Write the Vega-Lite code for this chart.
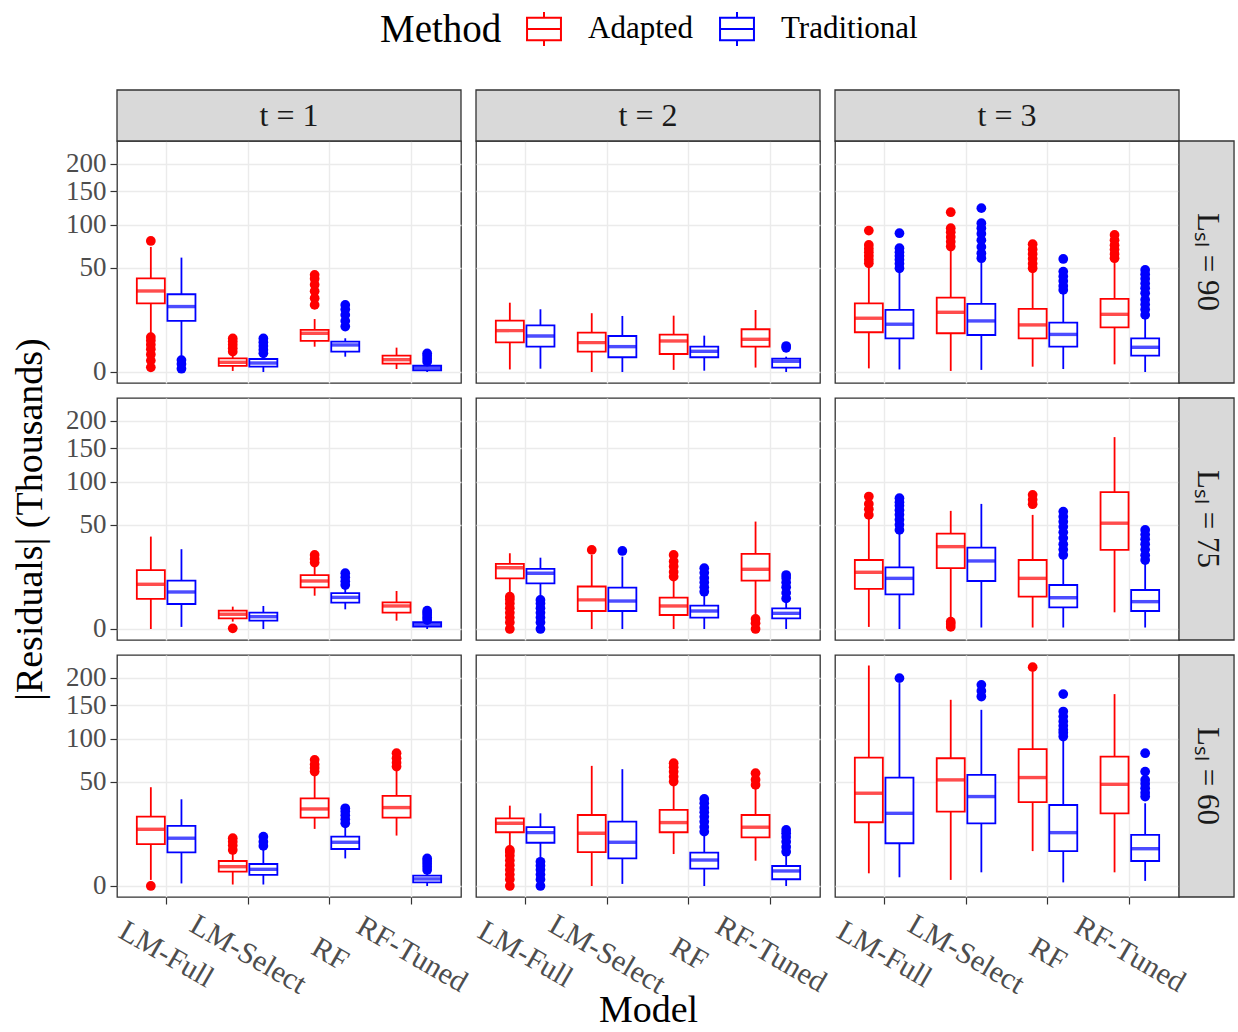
{
  "$schema": "https://vega.github.io/schema/vega-lite/v6.json",
  "background": "white",
  "padding": {"left": 10, "top": 11, "right": 2, "bottom": 2},
  "data": {"values": [
    {"k":"top","t":"t = 1","L":"Lₛₗ = 90"},{"k":"top","t":"t = 2","L":"Lₛₗ = 90"},{"k":"top","t":"t = 3","L":"Lₛₗ = 90"},
    {"k":"right","t":"t = 3","L":"Lₛₗ = 90"},{"k":"right","t":"t = 3","L":"Lₛₗ = 75"},{"k":"right","t":"t = 3","L":"Lₛₗ = 60"},

    {"k":"box","t":"t = 1","L":"Lₛₗ = 90","Model":"LM-Full","Method":"Adapted","lo":6.3,"q1":21.7,"med":30.2,"q3":40.4,"hi":72},
    {"k":"box","t":"t = 1","L":"Lₛₗ = 90","Model":"LM-Full","Method":"Traditional","lo":1.1,"q1":12,"med":19.7,"q3":27.8,"hi":60.2},
    {"k":"box","t":"t = 1","L":"Lₛₗ = 90","Model":"LM-Select","Method":"Adapted","lo":0.005,"q1":0.17,"med":0.43,"q3":0.86,"hi":1.4},
    {"k":"box","t":"t = 1","L":"Lₛₗ = 90","Model":"LM-Select","Method":"Traditional","lo":0,"q1":0.13,"med":0.37,"q3":0.78,"hi":1.23},
    {"k":"box","t":"t = 1","L":"Lₛₗ = 90","Model":"RF","Method":"Adapted","lo":2.95,"q1":4.43,"med":6.89,"q3":8.13,"hi":12.9},
    {"k":"box","t":"t = 1","L":"Lₛₗ = 90","Model":"RF","Method":"Traditional","lo":1.08,"q1":1.9,"med":3.36,"q3":4.24,"hi":5.23},
    {"k":"box","t":"t = 1","L":"Lₛₗ = 90","Model":"RF-Tuned","Method":"Adapted","lo":0.04,"q1":0.32,"med":0.7,"q3":1.23,"hi":2.73},
    {"k":"box","t":"t = 1","L":"Lₛₗ = 90","Model":"RF-Tuned","Method":"Traditional","lo":0,"q1":0.013,"med":0.07,"q3":0.18,"hi":0.35},

    {"k":"box","t":"t = 2","L":"Lₛₗ = 90","Model":"LM-Full","Method":"Adapted","lo":0.03,"q1":4.06,"med":7.87,"q3":12.1,"hi":22.1},
    {"k":"box","t":"t = 2","L":"Lₛₗ = 90","Model":"LM-Full","Method":"Traditional","lo":0.05,"q1":2.96,"med":5.97,"q3":10,"hi":18.1},
    {"k":"box","t":"t = 2","L":"Lₛₗ = 90","Model":"LM-Select","Method":"Adapted","lo":0,"q1":1.9,"med":3.96,"q3":7.13,"hi":15.9},
    {"k":"box","t":"t = 2","L":"Lₛₗ = 90","Model":"LM-Select","Method":"Traditional","lo":0,"q1":1,"med":2.96,"q3":5.97,"hi":14.45},
    {"k":"box","t":"t = 2","L":"Lₛₗ = 90","Model":"RF","Method":"Adapted","lo":0.02,"q1":1.49,"med":4.43,"q3":6.42,"hi":14.6},
    {"k":"box","t":"t = 2","L":"Lₛₗ = 90","Model":"RF","Method":"Traditional","lo":0.008,"q1":1,"med":1.97,"q3":2.96,"hi":6.08},
    {"k":"box","t":"t = 2","L":"Lₛₗ = 90","Model":"RF-Tuned","Method":"Adapted","lo":0.09,"q1":2.96,"med":4.92,"q3":8.4,"hi":17.7},
    {"k":"box","t":"t = 2","L":"Lₛₗ = 90","Model":"RF-Tuned","Method":"Traditional","lo":0,"q1":0.09,"med":0.53,"q3":0.82,"hi":1.08},

    {"k":"box","t":"t = 3","L":"Lₛₗ = 90","Model":"LM-Full","Method":"Adapted","lo":0.06,"q1":7.26,"med":13.3,"q3":21.7,"hi":52.8},
    {"k":"box","t":"t = 3","L":"Lₛₗ = 90","Model":"LM-Full","Method":"Traditional","lo":0.03,"q1":5.23,"med":10.5,"q3":17.7,"hi":47.9},
    {"k":"box","t":"t = 3","L":"Lₛₗ = 90","Model":"LM-Select","Method":"Adapted","lo":0.005,"q1":6.9,"med":16.4,"q3":25.5,"hi":70.5},
    {"k":"box","t":"t = 3","L":"Lₛₗ = 90","Model":"LM-Select","Method":"Traditional","lo":0.02,"q1":6.3,"med":12,"q3":21.3,"hi":57.8},
    {"k":"box","t":"t = 3","L":"Lₛₗ = 90","Model":"RF","Method":"Adapted","lo":0.13,"q1":5.23,"med":10.2,"q3":18.3,"hi":47.9},
    {"k":"box","t":"t = 3","L":"Lₛₗ = 90","Model":"RF","Method":"Traditional","lo":0.04,"q1":2.95,"med":6.5,"q3":11.2,"hi":29.7},
    {"k":"box","t":"t = 3","L":"Lₛₗ = 90","Model":"RF-Tuned","Method":"Adapted","lo":0.27,"q1":9.2,"med":15.3,"q3":24.6,"hi":57.8},
    {"k":"box","t":"t = 3","L":"Lₛₗ = 90","Model":"RF-Tuned","Method":"Traditional","lo":0,"q1":1.23,"med":2.81,"q3":5.23,"hi":14.1},

    {"k":"box","t":"t = 1","L":"Lₛₗ = 75","Model":"LM-Full","Method":"Adapted","lo":0,"q1":4.15,"med":9.2,"q3":16,"hi":39.3},
    {"k":"box","t":"t = 1","L":"Lₛₗ = 75","Model":"LM-Full","Method":"Traditional","lo":0.02,"q1":2.88,"med":6.3,"q3":10.8,"hi":29.3},
    {"k":"box","t":"t = 1","L":"Lₛₗ = 75","Model":"LM-Select","Method":"Adapted","lo":0.25,"q1":0.52,"med":1,"q3":1.55,"hi":2.3},
    {"k":"box","t":"t = 1","L":"Lₛₗ = 75","Model":"LM-Select","Method":"Traditional","lo":0,"q1":0.32,"med":0.7,"q3":1.23,"hi":2.44},
    {"k":"box","t":"t = 1","L":"Lₛₗ = 75","Model":"RF","Method":"Adapted","lo":5.1,"q1":8,"med":10.6,"q3":13.4,"hi":18.9},
    {"k":"box","t":"t = 1","L":"Lₛₗ = 75","Model":"RF","Method":"Traditional","lo":1.78,"q1":3.2,"med":4.6,"q3":5.9,"hi":8.25},
    {"k":"box","t":"t = 1","L":"Lₛₗ = 75","Model":"RF-Tuned","Method":"Adapted","lo":0.32,"q1":1.23,"med":2.44,"q3":3.28,"hi":6.65},
    {"k":"box","t":"t = 1","L":"Lₛₗ = 75","Model":"RF-Tuned","Method":"Traditional","lo":0,"q1":0.025,"med":0.1,"q3":0.21,"hi":0.29},

    {"k":"box","t":"t = 2","L":"Lₛₗ = 75","Model":"LM-Full","Method":"Adapted","lo":5.33,"q1":11.8,"med":17.3,"q3":19.5,"hi":26.4},
    {"k":"box","t":"t = 2","L":"Lₛₗ = 75","Model":"LM-Full","Method":"Traditional","lo":4.15,"q1":9.6,"med":14.3,"q3":16.6,"hi":23.4},
    {"k":"box","t":"t = 2","L":"Lₛₗ = 75","Model":"LM-Select","Method":"Adapted","lo":0,"q1":1.49,"med":3.9,"q3":8.3,"hi":25.2},
    {"k":"box","t":"t = 2","L":"Lₛₗ = 75","Model":"LM-Select","Method":"Traditional","lo":0,"q1":1.49,"med":3.6,"q3":7.87,"hi":24.1},
    {"k":"box","t":"t = 2","L":"Lₛₗ = 75","Model":"RF","Method":"Adapted","lo":0,"q1":0.9,"med":2.44,"q3":4.5,"hi":11.8},
    {"k":"box","t":"t = 2","L":"Lₛₗ = 75","Model":"RF","Method":"Traditional","lo":0,"q1":0.59,"med":1.49,"q3":2.5,"hi":5.9},
    {"k":"box","t":"t = 2","L":"Lₛₗ = 75","Model":"RF-Tuned","Method":"Adapted","lo":0.9,"q1":10.8,"med":16.4,"q3":25.9,"hi":53.1},
    {"k":"box","t":"t = 2","L":"Lₛₗ = 75","Model":"RF-Tuned","Method":"Traditional","lo":0,"q1":0.52,"med":1.13,"q3":1.97,"hi":3.9},

    {"k":"box","t":"t = 3","L":"Lₛₗ = 75","Model":"LM-Full","Method":"Adapted","lo":0.02,"q1":7.4,"med":14.8,"q3":21.9,"hi":58.1},
    {"k":"box","t":"t = 3","L":"Lₛₗ = 75","Model":"LM-Full","Method":"Traditional","lo":0,"q1":5.5,"med":11.8,"q3":17.5,"hi":43.6},
    {"k":"box","t":"t = 3","L":"Lₛₗ = 75","Model":"LM-Select","Method":"Adapted","lo":0.52,"q1":17,"med":31.2,"q3":41.9,"hi":64.2},
    {"k":"box","t":"t = 3","L":"Lₛₗ = 75","Model":"LM-Select","Method":"Traditional","lo":0.01,"q1":10.6,"med":21.3,"q3":30.5,"hi":72},
    {"k":"box","t":"t = 3","L":"Lₛₗ = 75","Model":"RF","Method":"Adapted","lo":0.01,"q1":4.8,"med":11.8,"q3":21.9,"hi":59.9},
    {"k":"box","t":"t = 3","L":"Lₛₗ = 75","Model":"RF","Method":"Traditional","lo":0.01,"q1":2.17,"med":4.5,"q3":8.9,"hi":24.1},
    {"k":"box","t":"t = 3","L":"Lₛₗ = 75","Model":"RF-Tuned","Method":"Adapted","lo":1.28,"q1":28.8,"med":51.5,"q3":86.1,"hi":169.4},
    {"k":"box","t":"t = 3","L":"Lₛₗ = 75","Model":"RF-Tuned","Method":"Traditional","lo":0.01,"q1":1.49,"med":3.44,"q3":7,"hi":20.9},

    {"k":"box","t":"t = 1","L":"Lₛₗ = 60","Model":"LM-Full","Method":"Adapted","lo":0.17,"q1":8.1,"med":14.8,"q3":22.1,"hi":44.9},
    {"k":"box","t":"t = 1","L":"Lₛₗ = 60","Model":"LM-Full","Method":"Traditional","lo":0.03,"q1":5.2,"med":10.5,"q3":16.6,"hi":34.6},
    {"k":"box","t":"t = 1","L":"Lₛₗ = 60","Model":"LM-Select","Method":"Adapted","lo":0.01,"q1":0.95,"med":1.72,"q3":2.88,"hi":4.9},
    {"k":"box","t":"t = 1","L":"Lₛₗ = 60","Model":"LM-Select","Method":"Traditional","lo":0.01,"q1":0.56,"med":1.28,"q3":2.23,"hi":5.97},
    {"k":"box","t":"t = 1","L":"Lₛₗ = 60","Model":"RF","Method":"Adapted","lo":15,"q1":21.5,"med":27.3,"q3":35.4,"hi":58.5},
    {"k":"box","t":"t = 1","L":"Lₛₗ = 60","Model":"RF","Method":"Traditional","lo":3.5,"q1":6.3,"med":8.8,"q3":11.2,"hi":17.2},
    {"k":"box","t":"t = 1","L":"Lₛₗ = 60","Model":"RF-Tuned","Method":"Adapted","lo":11.7,"q1":21.5,"med":28.3,"q3":37.3,"hi":63.8},
    {"k":"box","t":"t = 1","L":"Lₛₗ = 60","Model":"RF-Tuned","Method":"Traditional","lo":0,"q1":0.06,"med":0.23,"q3":0.49,"hi":0.74},

    {"k":"box","t":"t = 2","L":"Lₛₗ = 60","Model":"LM-Full","Method":"Adapted","lo":6.5,"q1":13.3,"med":18.1,"q3":21.1,"hi":29.7},
    {"k":"box","t":"t = 2","L":"Lₛₗ = 60","Model":"LM-Full","Method":"Traditional","lo":2.95,"q1":8.6,"med":13.1,"q3":15.9,"hi":24.3},
    {"k":"box","t":"t = 2","L":"Lₛₗ = 60","Model":"LM-Select","Method":"Adapted","lo":0,"q1":5.3,"med":12.8,"q3":23.2,"hi":66.4},
    {"k":"box","t":"t = 2","L":"Lₛₗ = 60","Model":"LM-Select","Method":"Traditional","lo":0.02,"q1":3.5,"med":8.8,"q3":19.1,"hi":62.8},
    {"k":"box","t":"t = 2","L":"Lₛₗ = 60","Model":"RF","Method":"Adapted","lo":4.7,"q1":13.3,"med":18.5,"q3":26.6,"hi":48.6},
    {"k":"box","t":"t = 2","L":"Lₛₗ = 60","Model":"RF","Method":"Traditional","lo":0,"q1":1.38,"med":3.1,"q3":5.1,"hi":12.8},
    {"k":"box","t":"t = 2","L":"Lₛₗ = 60","Model":"RF-Tuned","Method":"Adapted","lo":2.95,"q1":10.9,"med":15.9,"q3":23.2,"hi":45.5},
    {"k":"box","t":"t = 2","L":"Lₛₗ = 60","Model":"RF-Tuned","Method":"Traditional","lo":0,"q1":0.21,"med":1.04,"q3":1.84,"hi":4.9},

    {"k":"box","t":"t = 3","L":"Lₛₗ = 60","Model":"LM-Full","Method":"Adapted","lo":0.74,"q1":18.7,"med":39.6,"q3":75.9,"hi":223.7},
    {"k":"box","t":"t = 3","L":"Lₛₗ = 60","Model":"LM-Full","Method":"Traditional","lo":0.35,"q1":8.4,"med":24.3,"q3":54.1,"hi":189.4},
    {"k":"box","t":"t = 3","L":"Lₛₗ = 60","Model":"LM-Select","Method":"Adapted","lo":0.17,"q1":25.5,"med":51.8,"q3":75.1,"hi":159.5},
    {"k":"box","t":"t = 3","L":"Lₛₗ = 60","Model":"LM-Select","Method":"Traditional","lo":0.86,"q1":18.1,"med":36.8,"q3":56.8,"hi":142.8},
    {"k":"box","t":"t = 3","L":"Lₛₗ = 60","Model":"RF","Method":"Adapted","lo":5.6,"q1":32.3,"med":54.1,"q3":86.1,"hi":211.7},
    {"k":"box","t":"t = 3","L":"Lₛₗ = 60","Model":"RF","Method":"Traditional","lo":0.06,"q1":5.6,"med":13.1,"q3":30.2,"hi":98.2},
    {"k":"box","t":"t = 3","L":"Lₛₗ = 60","Model":"RF-Tuned","Method":"Adapted","lo":0.86,"q1":24.3,"med":47.6,"q3":77.1,"hi":169.4},
    {"k":"box","t":"t = 3","L":"Lₛₗ = 60","Model":"RF-Tuned","Method":"Traditional","lo":0.12,"q1":2.88,"med":6.4,"q3":12,"hi":31.5},

    {"k":"out","t":"t = 1","L":"Lₛₗ = 90","Model":"LM-Full","Method":"Adapted","v":79},
    {"k":"out","t":"t = 1","L":"Lₛₗ = 90","Model":"LM-Full","Method":"Adapted","v":0.1},
    {"k":"out","t":"t = 1","L":"Lₛₗ = 90","Model":"LM-Full","Method":"Adapted","v":0.6},
    {"k":"out","t":"t = 1","L":"Lₛₗ = 90","Model":"LM-Full","Method":"Adapted","v":1.4},
    {"k":"out","t":"t = 1","L":"Lₛₗ = 90","Model":"LM-Full","Method":"Adapted","v":2.4},
    {"k":"out","t":"t = 1","L":"Lₛₗ = 90","Model":"LM-Full","Method":"Adapted","v":3.4},
    {"k":"out","t":"t = 1","L":"Lₛₗ = 90","Model":"LM-Full","Method":"Adapted","v":4.6},
    {"k":"out","t":"t = 1","L":"Lₛₗ = 90","Model":"LM-Full","Method":"Adapted","v":5.6},
    {"k":"out","t":"t = 1","L":"Lₛₗ = 90","Model":"LM-Full","Method":"Traditional","v":0.05},
    {"k":"out","t":"t = 1","L":"Lₛₗ = 90","Model":"LM-Full","Method":"Traditional","v":0.3},
    {"k":"out","t":"t = 1","L":"Lₛₗ = 90","Model":"LM-Full","Method":"Traditional","v":0.65},
    {"k":"out","t":"t = 1","L":"Lₛₗ = 90","Model":"LM-Select","Method":"Adapted","v":1.9},
    {"k":"out","t":"t = 1","L":"Lₛₗ = 90","Model":"LM-Select","Method":"Adapted","v":2.6},
    {"k":"out","t":"t = 1","L":"Lₛₗ = 90","Model":"LM-Select","Method":"Adapted","v":3.4},
    {"k":"out","t":"t = 1","L":"Lₛₗ = 90","Model":"LM-Select","Method":"Adapted","v":4.3},
    {"k":"out","t":"t = 1","L":"Lₛₗ = 90","Model":"LM-Select","Method":"Adapted","v":5.2},
    {"k":"out","t":"t = 1","L":"Lₛₗ = 90","Model":"LM-Select","Method":"Traditional","v":1.6},
    {"k":"out","t":"t = 1","L":"Lₛₗ = 90","Model":"LM-Select","Method":"Traditional","v":2.3},
    {"k":"out","t":"t = 1","L":"Lₛₗ = 90","Model":"LM-Select","Method":"Traditional","v":3.1},
    {"k":"out","t":"t = 1","L":"Lₛₗ = 90","Model":"LM-Select","Method":"Traditional","v":4.1},
    {"k":"out","t":"t = 1","L":"Lₛₗ = 90","Model":"LM-Select","Method":"Traditional","v":5.2},
    {"k":"out","t":"t = 1","L":"Lₛₗ = 90","Model":"RF","Method":"Adapted","v":20.7},
    {"k":"out","t":"t = 1","L":"Lₛₗ = 90","Model":"RF","Method":"Adapted","v":25},
    {"k":"out","t":"t = 1","L":"Lₛₗ = 90","Model":"RF","Method":"Adapted","v":30},
    {"k":"out","t":"t = 1","L":"Lₛₗ = 90","Model":"RF","Method":"Adapted","v":35},
    {"k":"out","t":"t = 1","L":"Lₛₗ = 90","Model":"RF","Method":"Adapted","v":40},
    {"k":"out","t":"t = 1","L":"Lₛₗ = 90","Model":"RF","Method":"Adapted","v":43.4},
    {"k":"out","t":"t = 1","L":"Lₛₗ = 90","Model":"RF","Method":"Traditional","v":9.5},
    {"k":"out","t":"t = 1","L":"Lₛₗ = 90","Model":"RF","Method":"Traditional","v":12},
    {"k":"out","t":"t = 1","L":"Lₛₗ = 90","Model":"RF","Method":"Traditional","v":15},
    {"k":"out","t":"t = 1","L":"Lₛₗ = 90","Model":"RF","Method":"Traditional","v":18},
    {"k":"out","t":"t = 1","L":"Lₛₗ = 90","Model":"RF","Method":"Traditional","v":20.7},
    {"k":"out","t":"t = 1","L":"Lₛₗ = 90","Model":"RF-Tuned","Method":"Traditional","v":0.49},
    {"k":"out","t":"t = 1","L":"Lₛₗ = 90","Model":"RF-Tuned","Method":"Traditional","v":0.8},
    {"k":"out","t":"t = 1","L":"Lₛₗ = 90","Model":"RF-Tuned","Method":"Traditional","v":1.2},
    {"k":"out","t":"t = 1","L":"Lₛₗ = 90","Model":"RF-Tuned","Method":"Traditional","v":1.6},

    {"k":"out","t":"t = 2","L":"Lₛₗ = 90","Model":"RF-Tuned","Method":"Traditional","v":2.7},
    {"k":"out","t":"t = 2","L":"Lₛₗ = 90","Model":"RF-Tuned","Method":"Traditional","v":3.1},

    {"k":"out","t":"t = 3","L":"Lₛₗ = 90","Model":"LM-Full","Method":"Adapted","v":54.4},
    {"k":"out","t":"t = 3","L":"Lₛₗ = 90","Model":"LM-Full","Method":"Adapted","v":58},
    {"k":"out","t":"t = 3","L":"Lₛₗ = 90","Model":"LM-Full","Method":"Adapted","v":62},
    {"k":"out","t":"t = 3","L":"Lₛₗ = 90","Model":"LM-Full","Method":"Adapted","v":66},
    {"k":"out","t":"t = 3","L":"Lₛₗ = 90","Model":"LM-Full","Method":"Adapted","v":70},
    {"k":"out","t":"t = 3","L":"Lₛₗ = 90","Model":"LM-Full","Method":"Adapted","v":74.3},
    {"k":"out","t":"t = 3","L":"Lₛₗ = 90","Model":"LM-Full","Method":"Adapted","v":92},
    {"k":"out","t":"t = 3","L":"Lₛₗ = 90","Model":"LM-Full","Method":"Traditional","v":49.5},
    {"k":"out","t":"t = 3","L":"Lₛₗ = 90","Model":"LM-Full","Method":"Traditional","v":54},
    {"k":"out","t":"t = 3","L":"Lₛₗ = 90","Model":"LM-Full","Method":"Traditional","v":58},
    {"k":"out","t":"t = 3","L":"Lₛₗ = 90","Model":"LM-Full","Method":"Traditional","v":62},
    {"k":"out","t":"t = 3","L":"Lₛₗ = 90","Model":"LM-Full","Method":"Traditional","v":66},
    {"k":"out","t":"t = 3","L":"Lₛₗ = 90","Model":"LM-Full","Method":"Traditional","v":70.5},
    {"k":"out","t":"t = 3","L":"Lₛₗ = 90","Model":"LM-Full","Method":"Traditional","v":88.6},
    {"k":"out","t":"t = 3","L":"Lₛₗ = 90","Model":"LM-Select","Method":"Adapted","v":72.4},
    {"k":"out","t":"t = 3","L":"Lₛₗ = 90","Model":"LM-Select","Method":"Adapted","v":78},
    {"k":"out","t":"t = 3","L":"Lₛₗ = 90","Model":"LM-Select","Method":"Adapted","v":84},
    {"k":"out","t":"t = 3","L":"Lₛₗ = 90","Model":"LM-Select","Method":"Adapted","v":90},
    {"k":"out","t":"t = 3","L":"Lₛₗ = 90","Model":"LM-Select","Method":"Adapted","v":95.2},
    {"k":"out","t":"t = 3","L":"Lₛₗ = 90","Model":"LM-Select","Method":"Adapted","v":117.5},
    {"k":"out","t":"t = 3","L":"Lₛₗ = 90","Model":"LM-Select","Method":"Traditional","v":59.6},
    {"k":"out","t":"t = 3","L":"Lₛₗ = 90","Model":"LM-Select","Method":"Traditional","v":65},
    {"k":"out","t":"t = 3","L":"Lₛₗ = 90","Model":"LM-Select","Method":"Traditional","v":72},
    {"k":"out","t":"t = 3","L":"Lₛₗ = 90","Model":"LM-Select","Method":"Traditional","v":80},
    {"k":"out","t":"t = 3","L":"Lₛₗ = 90","Model":"LM-Select","Method":"Traditional","v":88},
    {"k":"out","t":"t = 3","L":"Lₛₗ = 90","Model":"LM-Select","Method":"Traditional","v":95},
    {"k":"out","t":"t = 3","L":"Lₛₗ = 90","Model":"LM-Select","Method":"Traditional","v":101.9},
    {"k":"out","t":"t = 3","L":"Lₛₗ = 90","Model":"LM-Select","Method":"Traditional","v":123.5},
    {"k":"out","t":"t = 3","L":"Lₛₗ = 90","Model":"RF","Method":"Adapted","v":49.5},
    {"k":"out","t":"t = 3","L":"Lₛₗ = 90","Model":"RF","Method":"Adapted","v":54},
    {"k":"out","t":"t = 3","L":"Lₛₗ = 90","Model":"RF","Method":"Adapted","v":59},
    {"k":"out","t":"t = 3","L":"Lₛₗ = 90","Model":"RF","Method":"Adapted","v":64},
    {"k":"out","t":"t = 3","L":"Lₛₗ = 90","Model":"RF","Method":"Adapted","v":69},
    {"k":"out","t":"t = 3","L":"Lₛₗ = 90","Model":"RF","Method":"Adapted","v":75.1},
    {"k":"out","t":"t = 3","L":"Lₛₗ = 90","Model":"RF","Method":"Traditional","v":31},
    {"k":"out","t":"t = 3","L":"Lₛₗ = 90","Model":"RF","Method":"Traditional","v":34},
    {"k":"out","t":"t = 3","L":"Lₛₗ = 90","Model":"RF","Method":"Traditional","v":38},
    {"k":"out","t":"t = 3","L":"Lₛₗ = 90","Model":"RF","Method":"Traditional","v":42},
    {"k":"out","t":"t = 3","L":"Lₛₗ = 90","Model":"RF","Method":"Traditional","v":46.4},
    {"k":"out","t":"t = 3","L":"Lₛₗ = 90","Model":"RF","Method":"Traditional","v":58.8},
    {"k":"out","t":"t = 3","L":"Lₛₗ = 90","Model":"RF-Tuned","Method":"Adapted","v":59.6},
    {"k":"out","t":"t = 3","L":"Lₛₗ = 90","Model":"RF-Tuned","Method":"Adapted","v":64},
    {"k":"out","t":"t = 3","L":"Lₛₗ = 90","Model":"RF-Tuned","Method":"Adapted","v":69},
    {"k":"out","t":"t = 3","L":"Lₛₗ = 90","Model":"RF-Tuned","Method":"Adapted","v":74},
    {"k":"out","t":"t = 3","L":"Lₛₗ = 90","Model":"RF-Tuned","Method":"Adapted","v":80},
    {"k":"out","t":"t = 3","L":"Lₛₗ = 90","Model":"RF-Tuned","Method":"Adapted","v":86.5},
    {"k":"out","t":"t = 3","L":"Lₛₗ = 90","Model":"RF-Tuned","Method":"Traditional","v":15},
    {"k":"out","t":"t = 3","L":"Lₛₗ = 90","Model":"RF-Tuned","Method":"Traditional","v":18},
    {"k":"out","t":"t = 3","L":"Lₛₗ = 90","Model":"RF-Tuned","Method":"Traditional","v":21},
    {"k":"out","t":"t = 3","L":"Lₛₗ = 90","Model":"RF-Tuned","Method":"Traditional","v":24},
    {"k":"out","t":"t = 3","L":"Lₛₗ = 90","Model":"RF-Tuned","Method":"Traditional","v":28.5},
    {"k":"out","t":"t = 3","L":"Lₛₗ = 90","Model":"RF-Tuned","Method":"Traditional","v":32.3},
    {"k":"out","t":"t = 3","L":"Lₛₗ = 90","Model":"RF-Tuned","Method":"Traditional","v":36},
    {"k":"out","t":"t = 3","L":"Lₛₗ = 90","Model":"RF-Tuned","Method":"Traditional","v":40},
    {"k":"out","t":"t = 3","L":"Lₛₗ = 90","Model":"RF-Tuned","Method":"Traditional","v":44},
    {"k":"out","t":"t = 3","L":"Lₛₗ = 90","Model":"RF-Tuned","Method":"Traditional","v":47.9},

    {"k":"out","t":"t = 1","L":"Lₛₗ = 75","Model":"LM-Select","Method":"Adapted","v":0.002},
    {"k":"out","t":"t = 1","L":"Lₛₗ = 75","Model":"RF","Method":"Adapted","v":20.3},
    {"k":"out","t":"t = 1","L":"Lₛₗ = 75","Model":"RF","Method":"Adapted","v":22.5},
    {"k":"out","t":"t = 1","L":"Lₛₗ = 75","Model":"RF","Method":"Adapted","v":25.2},
    {"k":"out","t":"t = 1","L":"Lₛₗ = 75","Model":"RF","Method":"Traditional","v":8.9},
    {"k":"out","t":"t = 1","L":"Lₛₗ = 75","Model":"RF","Method":"Traditional","v":10.5},
    {"k":"out","t":"t = 1","L":"Lₛₗ = 75","Model":"RF","Method":"Traditional","v":12.3},
    {"k":"out","t":"t = 1","L":"Lₛₗ = 75","Model":"RF","Method":"Traditional","v":14.3},
    {"k":"out","t":"t = 1","L":"Lₛₗ = 75","Model":"RF-Tuned","Method":"Traditional","v":0.37},
    {"k":"out","t":"t = 1","L":"Lₛₗ = 75","Model":"RF-Tuned","Method":"Traditional","v":0.6},
    {"k":"out","t":"t = 1","L":"Lₛₗ = 75","Model":"RF-Tuned","Method":"Traditional","v":0.9},
    {"k":"out","t":"t = 1","L":"Lₛₗ = 75","Model":"RF-Tuned","Method":"Traditional","v":1.2},
    {"k":"out","t":"t = 1","L":"Lₛₗ = 75","Model":"RF-Tuned","Method":"Traditional","v":1.55},

    {"k":"out","t":"t = 2","L":"Lₛₗ = 75","Model":"LM-Full","Method":"Adapted","v":0},
    {"k":"out","t":"t = 2","L":"Lₛₗ = 75","Model":"LM-Full","Method":"Adapted","v":0.2},
    {"k":"out","t":"t = 2","L":"Lₛₗ = 75","Model":"LM-Full","Method":"Adapted","v":0.6},
    {"k":"out","t":"t = 2","L":"Lₛₗ = 75","Model":"LM-Full","Method":"Adapted","v":1.2},
    {"k":"out","t":"t = 2","L":"Lₛₗ = 75","Model":"LM-Full","Method":"Adapted","v":2},
    {"k":"out","t":"t = 2","L":"Lₛₗ = 75","Model":"LM-Full","Method":"Adapted","v":3},
    {"k":"out","t":"t = 2","L":"Lₛₗ = 75","Model":"LM-Full","Method":"Adapted","v":4},
    {"k":"out","t":"t = 2","L":"Lₛₗ = 75","Model":"LM-Full","Method":"Adapted","v":4.8},
    {"k":"out","t":"t = 2","L":"Lₛₗ = 75","Model":"LM-Full","Method":"Traditional","v":0},
    {"k":"out","t":"t = 2","L":"Lₛₗ = 75","Model":"LM-Full","Method":"Traditional","v":0.2},
    {"k":"out","t":"t = 2","L":"Lₛₗ = 75","Model":"LM-Full","Method":"Traditional","v":0.6},
    {"k":"out","t":"t = 2","L":"Lₛₗ = 75","Model":"LM-Full","Method":"Traditional","v":1.2},
    {"k":"out","t":"t = 2","L":"Lₛₗ = 75","Model":"LM-Full","Method":"Traditional","v":2},
    {"k":"out","t":"t = 2","L":"Lₛₗ = 75","Model":"LM-Full","Method":"Traditional","v":3},
    {"k":"out","t":"t = 2","L":"Lₛₗ = 75","Model":"LM-Full","Method":"Traditional","v":3.9},
    {"k":"out","t":"t = 2","L":"Lₛₗ = 75","Model":"LM-Select","Method":"Adapted","v":28.8},
    {"k":"out","t":"t = 2","L":"Lₛₗ = 75","Model":"LM-Select","Method":"Traditional","v":28},
    {"k":"out","t":"t = 2","L":"Lₛₗ = 75","Model":"RF","Method":"Adapted","v":12.6},
    {"k":"out","t":"t = 2","L":"Lₛₗ = 75","Model":"RF","Method":"Adapted","v":15},
    {"k":"out","t":"t = 2","L":"Lₛₗ = 75","Model":"RF","Method":"Adapted","v":18},
    {"k":"out","t":"t = 2","L":"Lₛₗ = 75","Model":"RF","Method":"Adapted","v":21},
    {"k":"out","t":"t = 2","L":"Lₛₗ = 75","Model":"RF","Method":"Adapted","v":25.2},
    {"k":"out","t":"t = 2","L":"Lₛₗ = 75","Model":"RF","Method":"Traditional","v":6.4},
    {"k":"out","t":"t = 2","L":"Lₛₗ = 75","Model":"RF","Method":"Traditional","v":8},
    {"k":"out","t":"t = 2","L":"Lₛₗ = 75","Model":"RF","Method":"Traditional","v":10},
    {"k":"out","t":"t = 2","L":"Lₛₗ = 75","Model":"RF","Method":"Traditional","v":12},
    {"k":"out","t":"t = 2","L":"Lₛₗ = 75","Model":"RF","Method":"Traditional","v":14.5},
    {"k":"out","t":"t = 2","L":"Lₛₗ = 75","Model":"RF","Method":"Traditional","v":17},
    {"k":"out","t":"t = 2","L":"Lₛₗ = 75","Model":"RF-Tuned","Method":"Adapted","v":0},
    {"k":"out","t":"t = 2","L":"Lₛₗ = 75","Model":"RF-Tuned","Method":"Adapted","v":0.15},
    {"k":"out","t":"t = 2","L":"Lₛₗ = 75","Model":"RF-Tuned","Method":"Adapted","v":0.46},
    {"k":"out","t":"t = 2","L":"Lₛₗ = 75","Model":"RF-Tuned","Method":"Traditional","v":4.3},
    {"k":"out","t":"t = 2","L":"Lₛₗ = 75","Model":"RF-Tuned","Method":"Traditional","v":6},
    {"k":"out","t":"t = 2","L":"Lₛₗ = 75","Model":"RF-Tuned","Method":"Traditional","v":8},
    {"k":"out","t":"t = 2","L":"Lₛₗ = 75","Model":"RF-Tuned","Method":"Traditional","v":10},
    {"k":"out","t":"t = 2","L":"Lₛₗ = 75","Model":"RF-Tuned","Method":"Traditional","v":12},
    {"k":"out","t":"t = 2","L":"Lₛₗ = 75","Model":"RF-Tuned","Method":"Traditional","v":13.4},

    {"k":"out","t":"t = 3","L":"Lₛₗ = 75","Model":"LM-Full","Method":"Adapted","v":59.9},
    {"k":"out","t":"t = 3","L":"Lₛₗ = 75","Model":"LM-Full","Method":"Adapted","v":66},
    {"k":"out","t":"t = 3","L":"Lₛₗ = 75","Model":"LM-Full","Method":"Adapted","v":72},
    {"k":"out","t":"t = 3","L":"Lₛₗ = 75","Model":"LM-Full","Method":"Adapted","v":80.7},
    {"k":"out","t":"t = 3","L":"Lₛₗ = 75","Model":"LM-Full","Method":"Traditional","v":45.2},
    {"k":"out","t":"t = 3","L":"Lₛₗ = 75","Model":"LM-Full","Method":"Traditional","v":50},
    {"k":"out","t":"t = 3","L":"Lₛₗ = 75","Model":"LM-Full","Method":"Traditional","v":55},
    {"k":"out","t":"t = 3","L":"Lₛₗ = 75","Model":"LM-Full","Method":"Traditional","v":60},
    {"k":"out","t":"t = 3","L":"Lₛₗ = 75","Model":"LM-Full","Method":"Traditional","v":65},
    {"k":"out","t":"t = 3","L":"Lₛₗ = 75","Model":"LM-Full","Method":"Traditional","v":70},
    {"k":"out","t":"t = 3","L":"Lₛₗ = 75","Model":"LM-Full","Method":"Traditional","v":74},
    {"k":"out","t":"t = 3","L":"Lₛₗ = 75","Model":"LM-Full","Method":"Traditional","v":78.7},
    {"k":"out","t":"t = 3","L":"Lₛₗ = 75","Model":"LM-Select","Method":"Adapted","v":0.02},
    {"k":"out","t":"t = 3","L":"Lₛₗ = 75","Model":"LM-Select","Method":"Adapted","v":0.12},
    {"k":"out","t":"t = 3","L":"Lₛₗ = 75","Model":"LM-Select","Method":"Adapted","v":0.25},
    {"k":"out","t":"t = 3","L":"Lₛₗ = 75","Model":"RF","Method":"Adapted","v":71.6},
    {"k":"out","t":"t = 3","L":"Lₛₗ = 75","Model":"RF","Method":"Adapted","v":77},
    {"k":"out","t":"t = 3","L":"Lₛₗ = 75","Model":"RF","Method":"Adapted","v":82.8},
    {"k":"out","t":"t = 3","L":"Lₛₗ = 75","Model":"RF","Method":"Traditional","v":25.2},
    {"k":"out","t":"t = 3","L":"Lₛₗ = 75","Model":"RF","Method":"Traditional","v":29},
    {"k":"out","t":"t = 3","L":"Lₛₗ = 75","Model":"RF","Method":"Traditional","v":33},
    {"k":"out","t":"t = 3","L":"Lₛₗ = 75","Model":"RF","Method":"Traditional","v":38},
    {"k":"out","t":"t = 3","L":"Lₛₗ = 75","Model":"RF","Method":"Traditional","v":43},
    {"k":"out","t":"t = 3","L":"Lₛₗ = 75","Model":"RF","Method":"Traditional","v":48},
    {"k":"out","t":"t = 3","L":"Lₛₗ = 75","Model":"RF","Method":"Traditional","v":53},
    {"k":"out","t":"t = 3","L":"Lₛₗ = 75","Model":"RF","Method":"Traditional","v":58},
    {"k":"out","t":"t = 3","L":"Lₛₗ = 75","Model":"RF","Method":"Traditional","v":63.4},
    {"k":"out","t":"t = 3","L":"Lₛₗ = 75","Model":"RF-Tuned","Method":"Traditional","v":21.9},
    {"k":"out","t":"t = 3","L":"Lₛₗ = 75","Model":"RF-Tuned","Method":"Traditional","v":25},
    {"k":"out","t":"t = 3","L":"Lₛₗ = 75","Model":"RF-Tuned","Method":"Traditional","v":29},
    {"k":"out","t":"t = 3","L":"Lₛₗ = 75","Model":"RF-Tuned","Method":"Traditional","v":33},
    {"k":"out","t":"t = 3","L":"Lₛₗ = 75","Model":"RF-Tuned","Method":"Traditional","v":37},
    {"k":"out","t":"t = 3","L":"Lₛₗ = 75","Model":"RF-Tuned","Method":"Traditional","v":41},
    {"k":"out","t":"t = 3","L":"Lₛₗ = 75","Model":"RF-Tuned","Method":"Traditional","v":45.2},

    {"k":"out","t":"t = 1","L":"Lₛₗ = 60","Model":"LM-Full","Method":"Adapted","v":0},
    {"k":"out","t":"t = 1","L":"Lₛₗ = 60","Model":"LM-Select","Method":"Adapted","v":5.97},
    {"k":"out","t":"t = 1","L":"Lₛₗ = 60","Model":"LM-Select","Method":"Adapted","v":7.5},
    {"k":"out","t":"t = 1","L":"Lₛₗ = 60","Model":"LM-Select","Method":"Adapted","v":9},
    {"k":"out","t":"t = 1","L":"Lₛₗ = 60","Model":"LM-Select","Method":"Adapted","v":10.5},
    {"k":"out","t":"t = 1","L":"Lₛₗ = 60","Model":"LM-Select","Method":"Traditional","v":7.4},
    {"k":"out","t":"t = 1","L":"Lₛₗ = 60","Model":"LM-Select","Method":"Traditional","v":9},
    {"k":"out","t":"t = 1","L":"Lₛₗ = 60","Model":"LM-Select","Method":"Traditional","v":11.2},
    {"k":"out","t":"t = 1","L":"Lₛₗ = 60","Model":"RF","Method":"Adapted","v":60.2},
    {"k":"out","t":"t = 1","L":"Lₛₗ = 60","Model":"RF","Method":"Adapted","v":64},
    {"k":"out","t":"t = 1","L":"Lₛₗ = 60","Model":"RF","Method":"Adapted","v":68},
    {"k":"out","t":"t = 1","L":"Lₛₗ = 60","Model":"RF","Method":"Adapted","v":73.2},
    {"k":"out","t":"t = 1","L":"Lₛₗ = 60","Model":"RF","Method":"Traditional","v":18.1},
    {"k":"out","t":"t = 1","L":"Lₛₗ = 60","Model":"RF","Method":"Traditional","v":20.5},
    {"k":"out","t":"t = 1","L":"Lₛₗ = 60","Model":"RF","Method":"Traditional","v":23},
    {"k":"out","t":"t = 1","L":"Lₛₗ = 60","Model":"RF","Method":"Traditional","v":25.5},
    {"k":"out","t":"t = 1","L":"Lₛₗ = 60","Model":"RF","Method":"Traditional","v":27.8},
    {"k":"out","t":"t = 1","L":"Lₛₗ = 60","Model":"RF-Tuned","Method":"Adapted","v":65.6},
    {"k":"out","t":"t = 1","L":"Lₛₗ = 60","Model":"RF-Tuned","Method":"Adapted","v":70},
    {"k":"out","t":"t = 1","L":"Lₛₗ = 60","Model":"RF-Tuned","Method":"Adapted","v":75},
    {"k":"out","t":"t = 1","L":"Lₛₗ = 60","Model":"RF-Tuned","Method":"Adapted","v":81.1},
    {"k":"out","t":"t = 1","L":"Lₛₗ = 60","Model":"RF-Tuned","Method":"Traditional","v":1.18},
    {"k":"out","t":"t = 1","L":"Lₛₗ = 60","Model":"RF-Tuned","Method":"Traditional","v":1.7},
    {"k":"out","t":"t = 1","L":"Lₛₗ = 60","Model":"RF-Tuned","Method":"Traditional","v":2.3},
    {"k":"out","t":"t = 1","L":"Lₛₗ = 60","Model":"RF-Tuned","Method":"Traditional","v":2.9},
    {"k":"out","t":"t = 1","L":"Lₛₗ = 60","Model":"RF-Tuned","Method":"Traditional","v":3.5},

    {"k":"out","t":"t = 2","L":"Lₛₗ = 60","Model":"LM-Full","Method":"Adapted","v":0},
    {"k":"out","t":"t = 2","L":"Lₛₗ = 60","Model":"LM-Full","Method":"Adapted","v":0.2},
    {"k":"out","t":"t = 2","L":"Lₛₗ = 60","Model":"LM-Full","Method":"Adapted","v":0.6},
    {"k":"out","t":"t = 2","L":"Lₛₗ = 60","Model":"LM-Full","Method":"Adapted","v":1.2},
    {"k":"out","t":"t = 2","L":"Lₛₗ = 60","Model":"LM-Full","Method":"Adapted","v":2},
    {"k":"out","t":"t = 2","L":"Lₛₗ = 60","Model":"LM-Full","Method":"Adapted","v":3},
    {"k":"out","t":"t = 2","L":"Lₛₗ = 60","Model":"LM-Full","Method":"Adapted","v":4.2},
    {"k":"out","t":"t = 2","L":"Lₛₗ = 60","Model":"LM-Full","Method":"Adapted","v":5.3},
    {"k":"out","t":"t = 2","L":"Lₛₗ = 60","Model":"LM-Full","Method":"Adapted","v":5.97},
    {"k":"out","t":"t = 2","L":"Lₛₗ = 60","Model":"LM-Full","Method":"Traditional","v":0},
    {"k":"out","t":"t = 2","L":"Lₛₗ = 60","Model":"LM-Full","Method":"Traditional","v":0.2},
    {"k":"out","t":"t = 2","L":"Lₛₗ = 60","Model":"LM-Full","Method":"Traditional","v":0.6},
    {"k":"out","t":"t = 2","L":"Lₛₗ = 60","Model":"LM-Full","Method":"Traditional","v":1.2},
    {"k":"out","t":"t = 2","L":"Lₛₗ = 60","Model":"LM-Full","Method":"Traditional","v":1.9},
    {"k":"out","t":"t = 2","L":"Lₛₗ = 60","Model":"LM-Full","Method":"Traditional","v":2.7},
    {"k":"out","t":"t = 2","L":"Lₛₗ = 60","Model":"RF","Method":"Adapted","v":50.2},
    {"k":"out","t":"t = 2","L":"Lₛₗ = 60","Model":"RF","Method":"Adapted","v":55},
    {"k":"out","t":"t = 2","L":"Lₛₗ = 60","Model":"RF","Method":"Adapted","v":60},
    {"k":"out","t":"t = 2","L":"Lₛₗ = 60","Model":"RF","Method":"Adapted","v":65},
    {"k":"out","t":"t = 2","L":"Lₛₗ = 60","Model":"RF","Method":"Adapted","v":69.4},
    {"k":"out","t":"t = 2","L":"Lₛₗ = 60","Model":"RF","Method":"Traditional","v":13.6},
    {"k":"out","t":"t = 2","L":"Lₛₗ = 60","Model":"RF","Method":"Traditional","v":16},
    {"k":"out","t":"t = 2","L":"Lₛₗ = 60","Model":"RF","Method":"Traditional","v":19},
    {"k":"out","t":"t = 2","L":"Lₛₗ = 60","Model":"RF","Method":"Traditional","v":22},
    {"k":"out","t":"t = 2","L":"Lₛₗ = 60","Model":"RF","Method":"Traditional","v":25},
    {"k":"out","t":"t = 2","L":"Lₛₗ = 60","Model":"RF","Method":"Traditional","v":28},
    {"k":"out","t":"t = 2","L":"Lₛₗ = 60","Model":"RF","Method":"Traditional","v":31.5},
    {"k":"out","t":"t = 2","L":"Lₛₗ = 60","Model":"RF","Method":"Traditional","v":34.9},
    {"k":"out","t":"t = 2","L":"Lₛₗ = 60","Model":"RF-Tuned","Method":"Adapted","v":47},
    {"k":"out","t":"t = 2","L":"Lₛₗ = 60","Model":"RF-Tuned","Method":"Adapted","v":52},
    {"k":"out","t":"t = 2","L":"Lₛₗ = 60","Model":"RF-Tuned","Method":"Adapted","v":58.5},
    {"k":"out","t":"t = 2","L":"Lₛₗ = 60","Model":"RF-Tuned","Method":"Traditional","v":5.4},
    {"k":"out","t":"t = 2","L":"Lₛₗ = 60","Model":"RF-Tuned","Method":"Traditional","v":7},
    {"k":"out","t":"t = 2","L":"Lₛₗ = 60","Model":"RF-Tuned","Method":"Traditional","v":9},
    {"k":"out","t":"t = 2","L":"Lₛₗ = 60","Model":"RF-Tuned","Method":"Traditional","v":11},
    {"k":"out","t":"t = 2","L":"Lₛₗ = 60","Model":"RF-Tuned","Method":"Traditional","v":12.8},
    {"k":"out","t":"t = 2","L":"Lₛₗ = 60","Model":"RF-Tuned","Method":"Traditional","v":14.45},

    {"k":"out","t":"t = 3","L":"Lₛₗ = 60","Model":"LM-Full","Method":"Traditional","v":198.8},
    {"k":"out","t":"t = 3","L":"Lₛₗ = 60","Model":"LM-Select","Method":"Traditional","v":165.2},
    {"k":"out","t":"t = 3","L":"Lₛₗ = 60","Model":"LM-Select","Method":"Traditional","v":175},
    {"k":"out","t":"t = 3","L":"Lₛₗ = 60","Model":"LM-Select","Method":"Traditional","v":186.2},
    {"k":"out","t":"t = 3","L":"Lₛₗ = 60","Model":"RF","Method":"Adapted","v":220.4},
    {"k":"out","t":"t = 3","L":"Lₛₗ = 60","Model":"RF","Method":"Traditional","v":102.8},
    {"k":"out","t":"t = 3","L":"Lₛₗ = 60","Model":"RF","Method":"Traditional","v":108},
    {"k":"out","t":"t = 3","L":"Lₛₗ = 60","Model":"RF","Method":"Traditional","v":112.2},
    {"k":"out","t":"t = 3","L":"Lₛₗ = 60","Model":"RF","Method":"Traditional","v":118},
    {"k":"out","t":"t = 3","L":"Lₛₗ = 60","Model":"RF","Method":"Traditional","v":124.4},
    {"k":"out","t":"t = 3","L":"Lₛₗ = 60","Model":"RF","Method":"Traditional","v":132},
    {"k":"out","t":"t = 3","L":"Lₛₗ = 60","Model":"RF","Method":"Traditional","v":140},
    {"k":"out","t":"t = 3","L":"Lₛₗ = 60","Model":"RF","Method":"Traditional","v":169.4},
    {"k":"out","t":"t = 3","L":"Lₛₗ = 60","Model":"RF-Tuned","Method":"Traditional","v":36.8},
    {"k":"out","t":"t = 3","L":"Lₛₗ = 60","Model":"RF-Tuned","Method":"Traditional","v":40},
    {"k":"out","t":"t = 3","L":"Lₛₗ = 60","Model":"RF-Tuned","Method":"Traditional","v":44},
    {"k":"out","t":"t = 3","L":"Lₛₗ = 60","Model":"RF-Tuned","Method":"Traditional","v":48},
    {"k":"out","t":"t = 3","L":"Lₛₗ = 60","Model":"RF-Tuned","Method":"Traditional","v":51.8},
    {"k":"out","t":"t = 3","L":"Lₛₗ = 60","Model":"RF-Tuned","Method":"Traditional","v":60.2},
    {"k":"out","t":"t = 3","L":"Lₛₗ = 60","Model":"RF-Tuned","Method":"Traditional","v":81.1}
  ]},
  "columns": 3,
  "spacing": 15,
  "bounds": "flush",
  "concat": [
    {"width": 344, "height": 242,
     "transform": [{"filter": "datum.t === 't = 1' && datum.L === 'Lₛₗ = 90'"}],
     "layer": [
      {"encoding": {
         "x": {"field": "Model", "type": "nominal", "scale": {"domain": ["LM-Full", "LM-Select", "RF", "RF-Tuned"], "paddingInner": 0, "paddingOuter": 0.1},
           "axis": {"title": null, "labels": false, "ticks": false, "grid": true, "gridWidth": 1.4, "bandPosition": 0.5}},
         "xOffset": {"field": "Method", "type": "nominal", "scale": {"domain": ["Adapted", "Traditional"], "paddingInner": 0.085, "paddingOuter": 0.38}},
         "color": {"field": "Method", "type": "nominal", "scale": {"domain": ["Adapted", "Traditional"], "range": ["#FF0000", "#0000FF"]},
           "legend": {"orient": "none", "legendX": 263, "legendY": -130, "direction": "horizontal", "title": "Method", "titleOrient": "left",
             "titleFont": "Liberation Serif", "titleFontSize": 39, "titleFontWeight": "normal", "titleColor": "#000000", "titlePadding": 24,
             "labelFont": "Liberation Serif", "labelFontSize": 31, "labelColor": "#000000", "labelOffset": 26, "columnPadding": 21,
             "symbolType": "M-1.06,-0.66H1.06M1,-0.66V0.66M1.06,0.66H-1.06M-1,0.66V-0.66M0,-0.66V-1M0,0.66V1M-1,0H1", "symbolSize": 1150, "symbolStrokeWidth": 2}}},
       "layer": [
        {"transform": [{"filter": "datum.k === 'box'"}], "mark": {"type": "rule", "strokeWidth": 1.8},
         "encoding": {"y": {"field": "lo", "type": "quantitative", "scale": {"type": "sqrt", "domain": [-0.557, 245.5], "nice": false, "zero": false},
           "axis": {"title": null, "values": [0, 12.5, 50, 72.855, 100, 123.737, 150, 174.103, 200], "labelOverlap": false,
             "labelExpr": "indexof([0, 50, 100, 150, 200], datum.value) >= 0 ? datum.label : ''",
             "tickOpacity": {"condition": {"test": "indexof([0, 50, 100, 150, 200], datum.value) >= 0", "value": 1}, "value": 0},
             "gridWidth": {"condition": {"test": "indexof([0, 50, 100, 150, 200], datum.value) >= 0", "value": 1.4}, "value": 0.8}, "labelPadding": 4}},
           "y2": {"field": "hi"}}},
        {"transform": [{"filter": "datum.k === 'box'"}], "mark": {"type": "bar", "filled": false, "fill": "white", "strokeWidth": 1.8},
         "encoding": {"y": {"field": "q1", "type": "quantitative"}, "y2": {"field": "q3"}}},
        {"transform": [{"filter": "datum.k === 'box'"}], "mark": {"type": "tick", "thickness": 3.4, "size": 28},
         "encoding": {"y": {"field": "med", "type": "quantitative"}}},
        {"transform": [{"filter": "datum.k === 'out'"}], "mark": {"type": "point", "filled": true, "size": 95, "opacity": 1},
         "encoding": {"y": {"field": "v", "type": "quantitative"}}}
       ]},
      {"transform": [{"filter": "datum.k === 'top'"}], "mark": {"type": "rect", "fill": "#D9D9D9", "stroke": "#333333", "strokeWidth": 1.3},
       "encoding": {"x": {"datum": 0, "type": "quantitative", "scale": {"domain": [0, 1], "nice": false}, "axis": null}, "x2": {"datum": 1},
         "y": {"datum": 1, "type": "quantitative", "scale": {"domain": [0, 1], "nice": false}, "axis": null}, "y2": {"datum": 1.2107}}},
      {"transform": [{"filter": "datum.k === 'top'"}], "mark": {"type": "text", "font": "Liberation Serif", "fontSize": 32, "color": "#1A1A1A", "align": "center", "baseline": "middle"},
       "encoding": {"x": {"datum": 0.5, "type": "quantitative", "scale": {"domain": [0, 1], "nice": false}, "axis": null},
         "y": {"datum": 1.105, "type": "quantitative", "scale": {"domain": [0, 1], "nice": false}, "axis": null}, "text": {"field": "t", "type": "nominal"}}}
     ],
     "resolve": {"scale": {"x": "independent", "y": "independent"}}},

    {"width": 344, "height": 242,
     "transform": [{"filter": "datum.t === 't = 2' && datum.L === 'Lₛₗ = 90'"}],
     "layer": [
      {"encoding": {
         "x": {"field": "Model", "type": "nominal", "scale": {"domain": ["LM-Full", "LM-Select", "RF", "RF-Tuned"], "paddingInner": 0, "paddingOuter": 0.1},
           "axis": {"title": null, "labels": false, "ticks": false, "grid": true, "gridWidth": 1.4, "bandPosition": 0.5}},
         "xOffset": {"field": "Method", "type": "nominal", "scale": {"domain": ["Adapted", "Traditional"], "paddingInner": 0.085, "paddingOuter": 0.38}},
         "color": {"field": "Method", "type": "nominal"}},
       "layer": [
        {"transform": [{"filter": "datum.k === 'box'"}], "mark": {"type": "rule", "strokeWidth": 1.8},
         "encoding": {"y": {"field": "lo", "type": "quantitative", "scale": {"type": "sqrt", "domain": [-0.557, 245.5], "nice": false, "zero": false},
           "axis": {"title": null, "labels": false, "ticks": false, "values": [0, 12.5, 50, 72.855, 100, 123.737, 150, 174.103, 200],
             "gridWidth": {"condition": {"test": "indexof([0, 50, 100, 150, 200], datum.value) >= 0", "value": 1.4}, "value": 0.8}}},
           "y2": {"field": "hi"}}},
        {"transform": [{"filter": "datum.k === 'box'"}], "mark": {"type": "bar", "filled": false, "fill": "white", "strokeWidth": 1.8},
         "encoding": {"y": {"field": "q1", "type": "quantitative"}, "y2": {"field": "q3"}}},
        {"transform": [{"filter": "datum.k === 'box'"}], "mark": {"type": "tick", "thickness": 3.4, "size": 28},
         "encoding": {"y": {"field": "med", "type": "quantitative"}}},
        {"transform": [{"filter": "datum.k === 'out'"}], "mark": {"type": "point", "filled": true, "size": 95, "opacity": 1},
         "encoding": {"y": {"field": "v", "type": "quantitative"}}}
       ]},
      {"transform": [{"filter": "datum.k === 'top'"}], "mark": {"type": "rect", "fill": "#D9D9D9", "stroke": "#333333", "strokeWidth": 1.3},
       "encoding": {"x": {"datum": 0, "type": "quantitative", "scale": {"domain": [0, 1], "nice": false}, "axis": null}, "x2": {"datum": 1},
         "y": {"datum": 1, "type": "quantitative", "scale": {"domain": [0, 1], "nice": false}, "axis": null}, "y2": {"datum": 1.2107}}},
      {"transform": [{"filter": "datum.k === 'top'"}], "mark": {"type": "text", "font": "Liberation Serif", "fontSize": 32, "color": "#1A1A1A", "align": "center", "baseline": "middle"},
       "encoding": {"x": {"datum": 0.5, "type": "quantitative", "scale": {"domain": [0, 1], "nice": false}, "axis": null},
         "y": {"datum": 1.105, "type": "quantitative", "scale": {"domain": [0, 1], "nice": false}, "axis": null}, "text": {"field": "t", "type": "nominal"}}}
     ],
     "resolve": {"scale": {"x": "independent", "y": "independent"}}},

    {"width": 344, "height": 242,
     "transform": [{"filter": "datum.t === 't = 3' && datum.L === 'Lₛₗ = 90'"}],
     "layer": [
      {"encoding": {
         "x": {"field": "Model", "type": "nominal", "scale": {"domain": ["LM-Full", "LM-Select", "RF", "RF-Tuned"], "paddingInner": 0, "paddingOuter": 0.1},
           "axis": {"title": null, "labels": false, "ticks": false, "grid": true, "gridWidth": 1.4, "bandPosition": 0.5}},
         "xOffset": {"field": "Method", "type": "nominal", "scale": {"domain": ["Adapted", "Traditional"], "paddingInner": 0.085, "paddingOuter": 0.38}},
         "color": {"field": "Method", "type": "nominal"}},
       "layer": [
        {"transform": [{"filter": "datum.k === 'box'"}], "mark": {"type": "rule", "strokeWidth": 1.8},
         "encoding": {"y": {"field": "lo", "type": "quantitative", "scale": {"type": "sqrt", "domain": [-0.557, 245.5], "nice": false, "zero": false},
           "axis": {"title": null, "labels": false, "ticks": false, "values": [0, 12.5, 50, 72.855, 100, 123.737, 150, 174.103, 200],
             "gridWidth": {"condition": {"test": "indexof([0, 50, 100, 150, 200], datum.value) >= 0", "value": 1.4}, "value": 0.8}}},
           "y2": {"field": "hi"}}},
        {"transform": [{"filter": "datum.k === 'box'"}], "mark": {"type": "bar", "filled": false, "fill": "white", "strokeWidth": 1.8},
         "encoding": {"y": {"field": "q1", "type": "quantitative"}, "y2": {"field": "q3"}}},
        {"transform": [{"filter": "datum.k === 'box'"}], "mark": {"type": "tick", "thickness": 3.4, "size": 28},
         "encoding": {"y": {"field": "med", "type": "quantitative"}}},
        {"transform": [{"filter": "datum.k === 'out'"}], "mark": {"type": "point", "filled": true, "size": 95, "opacity": 1},
         "encoding": {"y": {"field": "v", "type": "quantitative"}}}
       ]},
      {"transform": [{"filter": "datum.k === 'top'"}], "mark": {"type": "rect", "fill": "#D9D9D9", "stroke": "#333333", "strokeWidth": 1.3},
       "encoding": {"x": {"datum": 0, "type": "quantitative", "scale": {"domain": [0, 1], "nice": false}, "axis": null}, "x2": {"datum": 1},
         "y": {"datum": 1, "type": "quantitative", "scale": {"domain": [0, 1], "nice": false}, "axis": null}, "y2": {"datum": 1.2107}}},
      {"transform": [{"filter": "datum.k === 'top'"}], "mark": {"type": "text", "font": "Liberation Serif", "fontSize": 32, "color": "#1A1A1A", "align": "center", "baseline": "middle"},
       "encoding": {"x": {"datum": 0.5, "type": "quantitative", "scale": {"domain": [0, 1], "nice": false}, "axis": null},
         "y": {"datum": 1.105, "type": "quantitative", "scale": {"domain": [0, 1], "nice": false}, "axis": null}, "text": {"field": "t", "type": "nominal"}}},
      {"transform": [{"filter": "datum.k === 'right'"}], "mark": {"type": "rect", "fill": "#D9D9D9", "stroke": "#333333", "strokeWidth": 1.3},
       "encoding": {"x": {"datum": 1, "type": "quantitative", "scale": {"domain": [0, 1], "nice": false}, "axis": null}, "x2": {"datum": 1.16},
         "y": {"datum": 0, "type": "quantitative", "scale": {"domain": [0, 1], "nice": false}, "axis": null}, "y2": {"datum": 1}}},
      {"transform": [{"filter": "datum.k === 'right'"}], "mark": {"type": "text", "font": "Liberation Serif", "fontSize": 31, "color": "#1A1A1A", "align": "center", "baseline": "middle", "angle": 90},
       "encoding": {"x": {"datum": 1.08, "type": "quantitative", "scale": {"domain": [0, 1], "nice": false}, "axis": null},
         "y": {"datum": 0.5, "type": "quantitative", "scale": {"domain": [0, 1], "nice": false}, "axis": null}, "text": {"field": "L", "type": "nominal"}}}
     ],
     "resolve": {"scale": {"x": "independent", "y": "independent"}}},

    {"width": 344, "height": 242,
     "transform": [{"filter": "datum.t === 't = 1' && datum.L === 'Lₛₗ = 75'"}],
     "layer": [
      {"encoding": {
         "x": {"field": "Model", "type": "nominal", "scale": {"domain": ["LM-Full", "LM-Select", "RF", "RF-Tuned"], "paddingInner": 0, "paddingOuter": 0.1},
           "axis": {"title": null, "labels": false, "ticks": false, "grid": true, "gridWidth": 1.4, "bandPosition": 0.5}},
         "xOffset": {"field": "Method", "type": "nominal", "scale": {"domain": ["Adapted", "Traditional"], "paddingInner": 0.085, "paddingOuter": 0.38}},
         "color": {"field": "Method", "type": "nominal"}},
       "layer": [
        {"transform": [{"filter": "datum.k === 'box'"}], "mark": {"type": "rule", "strokeWidth": 1.8},
         "encoding": {"y": {"field": "lo", "type": "quantitative", "scale": {"type": "sqrt", "domain": [-0.557, 245.5], "nice": false, "zero": false},
           "axis": {"title": "|Residuals| (Thousands)", "titlePadding": 16, "values": [0, 12.5, 50, 72.855, 100, 123.737, 150, 174.103, 200], "labelOverlap": false,
             "labelExpr": "indexof([0, 50, 100, 150, 200], datum.value) >= 0 ? datum.label : ''",
             "tickOpacity": {"condition": {"test": "indexof([0, 50, 100, 150, 200], datum.value) >= 0", "value": 1}, "value": 0},
             "gridWidth": {"condition": {"test": "indexof([0, 50, 100, 150, 200], datum.value) >= 0", "value": 1.4}, "value": 0.8}, "labelPadding": 4}},
           "y2": {"field": "hi"}}},
        {"transform": [{"filter": "datum.k === 'box'"}], "mark": {"type": "bar", "filled": false, "fill": "white", "strokeWidth": 1.8},
         "encoding": {"y": {"field": "q1", "type": "quantitative"}, "y2": {"field": "q3"}}},
        {"transform": [{"filter": "datum.k === 'box'"}], "mark": {"type": "tick", "thickness": 3.4, "size": 28},
         "encoding": {"y": {"field": "med", "type": "quantitative"}}},
        {"transform": [{"filter": "datum.k === 'out'"}], "mark": {"type": "point", "filled": true, "size": 95, "opacity": 1},
         "encoding": {"y": {"field": "v", "type": "quantitative"}}}
       ]}
     ]},

    {"width": 344, "height": 242,
     "transform": [{"filter": "datum.t === 't = 2' && datum.L === 'Lₛₗ = 75'"}],
     "layer": [
      {"encoding": {
         "x": {"field": "Model", "type": "nominal", "scale": {"domain": ["LM-Full", "LM-Select", "RF", "RF-Tuned"], "paddingInner": 0, "paddingOuter": 0.1},
           "axis": {"title": null, "labels": false, "ticks": false, "grid": true, "gridWidth": 1.4, "bandPosition": 0.5}},
         "xOffset": {"field": "Method", "type": "nominal", "scale": {"domain": ["Adapted", "Traditional"], "paddingInner": 0.085, "paddingOuter": 0.38}},
         "color": {"field": "Method", "type": "nominal"}},
       "layer": [
        {"transform": [{"filter": "datum.k === 'box'"}], "mark": {"type": "rule", "strokeWidth": 1.8},
         "encoding": {"y": {"field": "lo", "type": "quantitative", "scale": {"type": "sqrt", "domain": [-0.557, 245.5], "nice": false, "zero": false},
           "axis": {"title": null, "labels": false, "ticks": false, "values": [0, 12.5, 50, 72.855, 100, 123.737, 150, 174.103, 200],
             "gridWidth": {"condition": {"test": "indexof([0, 50, 100, 150, 200], datum.value) >= 0", "value": 1.4}, "value": 0.8}}},
           "y2": {"field": "hi"}}},
        {"transform": [{"filter": "datum.k === 'box'"}], "mark": {"type": "bar", "filled": false, "fill": "white", "strokeWidth": 1.8},
         "encoding": {"y": {"field": "q1", "type": "quantitative"}, "y2": {"field": "q3"}}},
        {"transform": [{"filter": "datum.k === 'box'"}], "mark": {"type": "tick", "thickness": 3.4, "size": 28},
         "encoding": {"y": {"field": "med", "type": "quantitative"}}},
        {"transform": [{"filter": "datum.k === 'out'"}], "mark": {"type": "point", "filled": true, "size": 95, "opacity": 1},
         "encoding": {"y": {"field": "v", "type": "quantitative"}}}
       ]}
     ]},

    {"width": 344, "height": 242,
     "transform": [{"filter": "datum.t === 't = 3' && datum.L === 'Lₛₗ = 75'"}],
     "layer": [
      {"encoding": {
         "x": {"field": "Model", "type": "nominal", "scale": {"domain": ["LM-Full", "LM-Select", "RF", "RF-Tuned"], "paddingInner": 0, "paddingOuter": 0.1},
           "axis": {"title": null, "labels": false, "ticks": false, "grid": true, "gridWidth": 1.4, "bandPosition": 0.5}},
         "xOffset": {"field": "Method", "type": "nominal", "scale": {"domain": ["Adapted", "Traditional"], "paddingInner": 0.085, "paddingOuter": 0.38}},
         "color": {"field": "Method", "type": "nominal"}},
       "layer": [
        {"transform": [{"filter": "datum.k === 'box'"}], "mark": {"type": "rule", "strokeWidth": 1.8},
         "encoding": {"y": {"field": "lo", "type": "quantitative", "scale": {"type": "sqrt", "domain": [-0.557, 245.5], "nice": false, "zero": false},
           "axis": {"title": null, "labels": false, "ticks": false, "values": [0, 12.5, 50, 72.855, 100, 123.737, 150, 174.103, 200],
             "gridWidth": {"condition": {"test": "indexof([0, 50, 100, 150, 200], datum.value) >= 0", "value": 1.4}, "value": 0.8}}},
           "y2": {"field": "hi"}}},
        {"transform": [{"filter": "datum.k === 'box'"}], "mark": {"type": "bar", "filled": false, "fill": "white", "strokeWidth": 1.8},
         "encoding": {"y": {"field": "q1", "type": "quantitative"}, "y2": {"field": "q3"}}},
        {"transform": [{"filter": "datum.k === 'box'"}], "mark": {"type": "tick", "thickness": 3.4, "size": 28},
         "encoding": {"y": {"field": "med", "type": "quantitative"}}},
        {"transform": [{"filter": "datum.k === 'out'"}], "mark": {"type": "point", "filled": true, "size": 95, "opacity": 1},
         "encoding": {"y": {"field": "v", "type": "quantitative"}}}
       ]},
      {"transform": [{"filter": "datum.k === 'right'"}], "mark": {"type": "rect", "fill": "#D9D9D9", "stroke": "#333333", "strokeWidth": 1.3},
       "encoding": {"x": {"datum": 1, "type": "quantitative", "scale": {"domain": [0, 1], "nice": false}, "axis": null}, "x2": {"datum": 1.16},
         "y": {"datum": 0, "type": "quantitative", "scale": {"domain": [0, 1], "nice": false}, "axis": null}, "y2": {"datum": 1}}},
      {"transform": [{"filter": "datum.k === 'right'"}], "mark": {"type": "text", "font": "Liberation Serif", "fontSize": 31, "color": "#1A1A1A", "align": "center", "baseline": "middle", "angle": 90},
       "encoding": {"x": {"datum": 1.08, "type": "quantitative", "scale": {"domain": [0, 1], "nice": false}, "axis": null},
         "y": {"datum": 0.5, "type": "quantitative", "scale": {"domain": [0, 1], "nice": false}, "axis": null}, "text": {"field": "L", "type": "nominal"}}}
     ],
     "resolve": {"scale": {"x": "independent", "y": "independent"}}},

    {"width": 344, "height": 242,
     "transform": [{"filter": "datum.t === 't = 1' && datum.L === 'Lₛₗ = 60'"}],
     "layer": [
      {"encoding": {
         "x": {"field": "Model", "type": "nominal", "scale": {"domain": ["LM-Full", "LM-Select", "RF", "RF-Tuned"], "paddingInner": 0, "paddingOuter": 0.1},
           "axis": {"title": null, "grid": true, "gridWidth": 1.4, "bandPosition": 0.5, "labelAngle": 30, "labelAlign": "center", "labelBaseline": "middle",
             "labelPadding": 50, "labelOverlap": false, "labelFlush": false, "labelBound": false}},
         "xOffset": {"field": "Method", "type": "nominal", "scale": {"domain": ["Adapted", "Traditional"], "paddingInner": 0.085, "paddingOuter": 0.38}},
         "color": {"field": "Method", "type": "nominal"}},
       "layer": [
        {"transform": [{"filter": "datum.k === 'box'"}], "mark": {"type": "rule", "strokeWidth": 1.8},
         "encoding": {"y": {"field": "lo", "type": "quantitative", "scale": {"type": "sqrt", "domain": [-0.557, 245.5], "nice": false, "zero": false},
           "axis": {"title": null, "values": [0, 12.5, 50, 72.855, 100, 123.737, 150, 174.103, 200], "labelOverlap": false,
             "labelExpr": "indexof([0, 50, 100, 150, 200], datum.value) >= 0 ? datum.label : ''",
             "tickOpacity": {"condition": {"test": "indexof([0, 50, 100, 150, 200], datum.value) >= 0", "value": 1}, "value": 0},
             "gridWidth": {"condition": {"test": "indexof([0, 50, 100, 150, 200], datum.value) >= 0", "value": 1.4}, "value": 0.8}, "labelPadding": 4}},
           "y2": {"field": "hi"}}},
        {"transform": [{"filter": "datum.k === 'box'"}], "mark": {"type": "bar", "filled": false, "fill": "white", "strokeWidth": 1.8},
         "encoding": {"y": {"field": "q1", "type": "quantitative"}, "y2": {"field": "q3"}}},
        {"transform": [{"filter": "datum.k === 'box'"}], "mark": {"type": "tick", "thickness": 3.4, "size": 28},
         "encoding": {"y": {"field": "med", "type": "quantitative"}}},
        {"transform": [{"filter": "datum.k === 'out'"}], "mark": {"type": "point", "filled": true, "size": 95, "opacity": 1},
         "encoding": {"y": {"field": "v", "type": "quantitative"}}}
       ]}
     ]},

    {"width": 344, "height": 242,
     "transform": [{"filter": "datum.t === 't = 2' && datum.L === 'Lₛₗ = 60'"}],
     "layer": [
      {"encoding": {
         "x": {"field": "Model", "type": "nominal", "scale": {"domain": ["LM-Full", "LM-Select", "RF", "RF-Tuned"], "paddingInner": 0, "paddingOuter": 0.1},
           "axis": {"title": "Model", "titleY": 124, "titleBaseline": "alphabetic", "grid": true, "gridWidth": 1.4, "bandPosition": 0.5, "labelAngle": 30, "labelAlign": "center", "labelBaseline": "middle",
             "labelPadding": 50, "labelOverlap": false, "labelFlush": false, "labelBound": false}},
         "xOffset": {"field": "Method", "type": "nominal", "scale": {"domain": ["Adapted", "Traditional"], "paddingInner": 0.085, "paddingOuter": 0.38}},
         "color": {"field": "Method", "type": "nominal"}},
       "layer": [
        {"transform": [{"filter": "datum.k === 'box'"}], "mark": {"type": "rule", "strokeWidth": 1.8},
         "encoding": {"y": {"field": "lo", "type": "quantitative", "scale": {"type": "sqrt", "domain": [-0.557, 245.5], "nice": false, "zero": false},
           "axis": {"title": null, "labels": false, "ticks": false, "values": [0, 12.5, 50, 72.855, 100, 123.737, 150, 174.103, 200],
             "gridWidth": {"condition": {"test": "indexof([0, 50, 100, 150, 200], datum.value) >= 0", "value": 1.4}, "value": 0.8}}},
           "y2": {"field": "hi"}}},
        {"transform": [{"filter": "datum.k === 'box'"}], "mark": {"type": "bar", "filled": false, "fill": "white", "strokeWidth": 1.8},
         "encoding": {"y": {"field": "q1", "type": "quantitative"}, "y2": {"field": "q3"}}},
        {"transform": [{"filter": "datum.k === 'box'"}], "mark": {"type": "tick", "thickness": 3.4, "size": 28},
         "encoding": {"y": {"field": "med", "type": "quantitative"}}},
        {"transform": [{"filter": "datum.k === 'out'"}], "mark": {"type": "point", "filled": true, "size": 95, "opacity": 1},
         "encoding": {"y": {"field": "v", "type": "quantitative"}}}
       ]}
     ]},

    {"width": 344, "height": 242,
     "transform": [{"filter": "datum.t === 't = 3' && datum.L === 'Lₛₗ = 60'"}],
     "layer": [
      {"encoding": {
         "x": {"field": "Model", "type": "nominal", "scale": {"domain": ["LM-Full", "LM-Select", "RF", "RF-Tuned"], "paddingInner": 0, "paddingOuter": 0.1},
           "axis": {"title": null, "grid": true, "gridWidth": 1.4, "bandPosition": 0.5, "labelAngle": 30, "labelAlign": "center", "labelBaseline": "middle",
             "labelPadding": 50, "labelOverlap": false, "labelFlush": false, "labelBound": false}},
         "xOffset": {"field": "Method", "type": "nominal", "scale": {"domain": ["Adapted", "Traditional"], "paddingInner": 0.085, "paddingOuter": 0.38}},
         "color": {"field": "Method", "type": "nominal"}},
       "layer": [
        {"transform": [{"filter": "datum.k === 'box'"}], "mark": {"type": "rule", "strokeWidth": 1.8},
         "encoding": {"y": {"field": "lo", "type": "quantitative", "scale": {"type": "sqrt", "domain": [-0.557, 245.5], "nice": false, "zero": false},
           "axis": {"title": null, "labels": false, "ticks": false, "values": [0, 12.5, 50, 72.855, 100, 123.737, 150, 174.103, 200],
             "gridWidth": {"condition": {"test": "indexof([0, 50, 100, 150, 200], datum.value) >= 0", "value": 1.4}, "value": 0.8}}},
           "y2": {"field": "hi"}}},
        {"transform": [{"filter": "datum.k === 'box'"}], "mark": {"type": "bar", "filled": false, "fill": "white", "strokeWidth": 1.8},
         "encoding": {"y": {"field": "q1", "type": "quantitative"}, "y2": {"field": "q3"}}},
        {"transform": [{"filter": "datum.k === 'box'"}], "mark": {"type": "tick", "thickness": 3.4, "size": 28},
         "encoding": {"y": {"field": "med", "type": "quantitative"}}},
        {"transform": [{"filter": "datum.k === 'out'"}], "mark": {"type": "point", "filled": true, "size": 95, "opacity": 1},
         "encoding": {"y": {"field": "v", "type": "quantitative"}}}
       ]},
      {"transform": [{"filter": "datum.k === 'right'"}], "mark": {"type": "rect", "fill": "#D9D9D9", "stroke": "#333333", "strokeWidth": 1.3},
       "encoding": {"x": {"datum": 1, "type": "quantitative", "scale": {"domain": [0, 1], "nice": false}, "axis": null}, "x2": {"datum": 1.16},
         "y": {"datum": 0, "type": "quantitative", "scale": {"domain": [0, 1], "nice": false}, "axis": null}, "y2": {"datum": 1}}},
      {"transform": [{"filter": "datum.k === 'right'"}], "mark": {"type": "text", "font": "Liberation Serif", "fontSize": 31, "color": "#1A1A1A", "align": "center", "baseline": "middle", "angle": 90},
       "encoding": {"x": {"datum": 1.08, "type": "quantitative", "scale": {"domain": [0, 1], "nice": false}, "axis": null},
         "y": {"datum": 0.5, "type": "quantitative", "scale": {"domain": [0, 1], "nice": false}, "axis": null}, "text": {"field": "L", "type": "nominal"}}}
     ],
     "resolve": {"scale": {"x": "independent", "y": "independent"}}}
  ],
  "config": {
    "font": "Liberation Serif",
    "view": {"stroke": "#333333", "strokeWidth": 1.3},
    "axis": {"domain": false, "gridColor": "#EBEBEB", "tickColor": "#333333", "tickSize": 7, "tickWidth": 1.2,
      "labelFont": "Liberation Serif", "labelFontSize": 30, "labelColor": "#4D4D4D",
      "titleFont": "Liberation Serif", "titleFontSize": 38, "titleFontWeight": "normal", "titleColor": "#000000"},
    "axisY": {"labelFontSize": 27},
    "axisX": {"labelFontSize": 30}
  }
}
